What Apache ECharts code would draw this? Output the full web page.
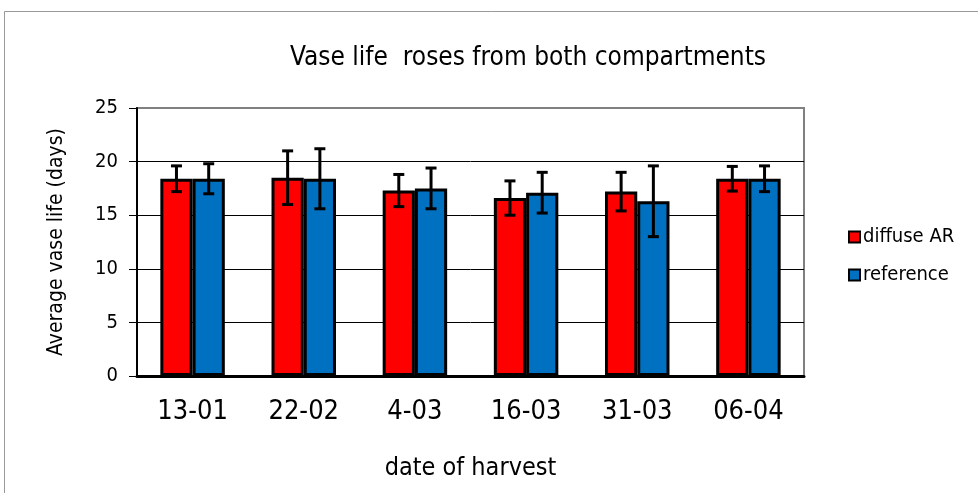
<!DOCTYPE html>
<html>
<head>
<meta charset="utf-8">
<script src="https://cdn.jsdelivr.net/npm/echarts@6/dist/echarts.min.js"></script>
<style>
  html, body { margin: 0; padding: 0; background: #fff; }
  #chart { width: 978px; height: 493px; }
</style>
</head>
<body>
<div id="chart"></div>
<script>
var dates = ['13-01', '22-02', '4-03', '16-03', '31-03', '06-04'];
var diffuseMean = [18.4, 18.5, 17.3, 16.6, 17.2, 18.4];
var diffuseErr = [1.2, 2.5, 1.5, 1.6, 1.8, 1.15];
var refMean = [18.4, 18.4, 17.5, 17.1, 16.3, 18.4];
var refErr = [1.4, 2.8, 1.9, 1.9, 3.3, 1.2];

var font = "'Liberation Sans Narrow', 'DejaVu Sans Condensed', sans-serif";

function errData(mean, err) {
    return mean.map(function (m, i) { return [i, m - err[i], m + err[i]]; });
}

// error bar drawn through the axis scales, shifted onto its bar
function errRender(shift) {
    return function (params, api) {
        var i = api.value(0);
        var lo = api.coord([i, api.value(1)]);
        var hi = api.coord([i, api.value(2)]);
        var cw = api.size([1, 0])[0];
        var x = lo[0] + shift * cw;
        var cap = 5.5;
        var st = { stroke: '#000', lineWidth: 3 };
        return {
            type: 'group',
            children: [
                { type: 'line', shape: { x1: x, y1: hi[1], x2: x, y2: lo[1] }, style: st },
                { type: 'line', shape: { x1: x - cap, y1: hi[1], x2: x + cap, y2: hi[1] }, style: st },
                { type: 'line', shape: { x1: x - cap, y1: lo[1], x2: x + cap, y2: lo[1] }, style: st }
            ]
        };
    };
}

var myChart = echarts.init(document.getElementById('chart'));

var option = {
    animation: false,
    textStyle: { fontFamily: font },
    title: {
        text: 'Vase life  roses from both compartments',
        left: 523,
        textAlign: 'center',
        top: 40,
        textStyle: { fontFamily: font, fontSize: 26, fontWeight: 'normal', color: '#000' }
    },
    graphic: [{
        type: 'rect',
        shape: { x: 4.5, y: 11.5, width: 990, height: 500 },
        style: { fill: 'none', stroke: '#999', lineWidth: 1 },
        silent: true
    }],
    legend: {
        orient: 'vertical',
        left: 843,
        top: 222,
        itemGap: 18,
        itemWidth: 11,
        itemHeight: 11,
        icon: 'rect',
        data: ['diffuse AR', 'reference'],
        itemStyle: { borderColor: '#000', borderWidth: 2 },
        textStyle: { fontFamily: font, fontSize: 20, color: '#000', padding: [0, 0, 0, -2] }
    },
    grid: {
        left: 137, right: 174, top: 108, bottom: 117,
        show: true, borderColor: '#808080', borderWidth: 2
    },
    xAxis: {
        type: 'category',
        data: dates,
        name: 'date of harvest',
        nameLocation: 'middle',
        nameGap: 80,
        nameTextStyle: { fontFamily: font, fontSize: 25, color: '#000' },
        axisLine: { lineStyle: { color: '#000', width: 3 } },
        axisTick: { interval: 0, length: 7, lineStyle: { color: '#000', width: 2 } },
        axisLabel: { margin: 22, fontSize: 27, color: '#000', fontFamily: font }
    },
    yAxis: {
        type: 'value',
        min: 0, max: 25, interval: 5,
        name: 'Average vase life (days)',
        nameLocation: 'middle',
        nameGap: 70,
        nameTextStyle: { fontFamily: font, fontSize: 21, color: '#000' },
        axisLine: { show: true, lineStyle: { color: '#000', width: 2 } },
        axisTick: { show: true, length: 8, lineStyle: { color: '#000', width: 1 } },
        axisLabel: { margin: 19, fontSize: 20, color: '#000', fontFamily: font },
        splitLine: { lineStyle: { color: ['#000', '#000', '#000', '#000', '#000', '#808080'], width: 1 } }
    },
    series: [
        {
            name: 'diffuse AR', type: 'bar', data: diffuseMean,
            barGap: '0%', barCategoryGap: '42%',
            itemStyle: { color: '#ff0000', borderColor: '#000', borderWidth: 3 }
        },
        {
            name: 'reference', type: 'bar', data: refMean,
            itemStyle: { color: '#0070c0', borderColor: '#000', borderWidth: 3 }
        },
        {
            name: 'errDiffuse', type: 'custom', data: errData(diffuseMean, diffuseErr),
            renderItem: errRender(-0.145), z: 5
        },
        {
            name: 'errRef', type: 'custom', data: errData(refMean, refErr),
            renderItem: errRender(0.145), z: 5
        }
    ]
};

myChart.setOption(option);
</script>
</body>
</html>
